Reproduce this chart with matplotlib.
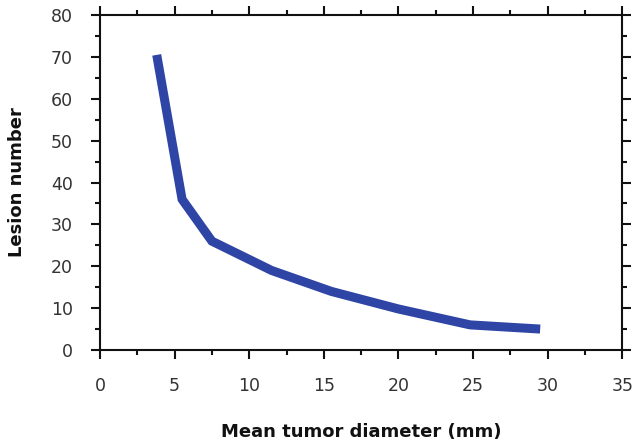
import matplotlib
matplotlib.use("Agg")
import matplotlib.pyplot as plt
from matplotlib.ticker import MultipleLocator

diameter = [3.8, 5.5, 7.5, 11.5, 15.5, 20.0, 24.8, 29.5]
lesions = [70.5, 36.0, 26.0, 19.0, 14.0, 9.8, 6.0, 5.0]
x_ticks = [0, 5, 10, 15, 20, 25, 30, 35]
y_ticks = [0, 10, 20, 30, 40, 50, 60, 70, 80]

plt.rcParams['font.family'] = ['DejaVu Sans']

fig = plt.figure(figsize=(6.33, 4.45), dpi=100)
ax = fig.add_axes([0.158, 0.2135, 0.825, 0.7525])

ax.plot(diameter, lesions, color='#2F45A6', linewidth=6.5,
        solid_capstyle='butt', solid_joinstyle='miter')

ax.set_xlim(0, 35)
ax.set_ylim(0, 80)
ax.set_xticks(x_ticks)
ax.set_yticks(y_ticks)
ax.xaxis.set_minor_locator(MultipleLocator(2.5))
ax.yaxis.set_minor_locator(MultipleLocator(5))

for s in ax.spines.values():
    s.set_linewidth(1.5)
    s.set_color('#111111')

ax.tick_params(which='both', direction='out', top=True, right=True,
               width=1.5, color='#111111', labelsize=12.5, labelcolor='#333333')
ax.tick_params(which='major', length=6.5, pad=13)
ax.tick_params(which='minor', length=3.6)

ax.set_xlabel('Mean tumor diameter (mm)', fontsize=13, fontweight='bold',
              labelpad=20, color='#111111')
ax.set_ylabel('Lesion number', fontsize=13, fontweight='bold',
              labelpad=18, color='#111111')

fig.savefig('out.png', dpi=100)
